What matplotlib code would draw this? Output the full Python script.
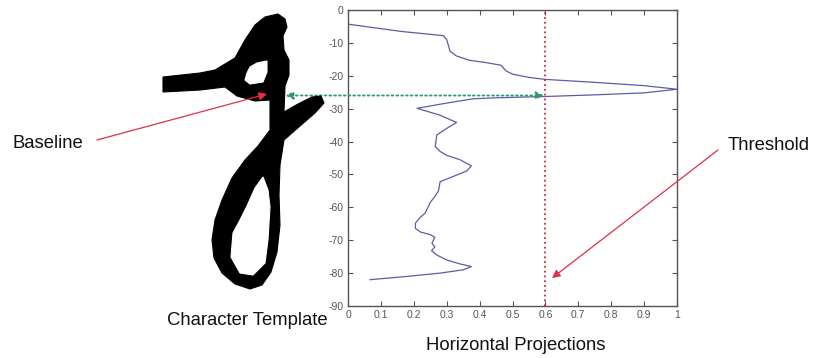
import matplotlib
matplotlib.use("Agg")
import matplotlib.pyplot as plt

plt.rcParams["font.family"] = ["Liberation Sans", "DejaVu Sans"]
plt.rcParams["axes.unicode_minus"] = False

# horizontal projection profile (value, row)
proj_value = [0.00, 0.16, 0.29, 0.30, 0.31, 0.33, 0.37, 0.42, 0.465, 0.48, 0.50, 0.55,
              0.60, 0.75, 0.90, 1.00, 0.90, 0.75, 0.60, 0.45, 0.38, 0.30, 0.21, 0.28,
              0.33, 0.30, 0.27, 0.265, 0.28, 0.30, 0.34, 0.375, 0.36, 0.31, 0.28, 0.275,
              0.264, 0.25, 0.244, 0.234, 0.22, 0.205, 0.205, 0.22, 0.25, 0.264, 0.255,
              0.264, 0.254, 0.27, 0.30, 0.34, 0.375, 0.35, 0.28, 0.18, 0.067]
proj_row = [-4.3, -6.5, -7.8, -9.0, -12.5, -14.0, -15.3, -16.0, -16.8, -18.5, -19.5, -20.5,
            -21.1, -22.0, -23.0, -24.1, -25.2, -25.8, -26.3, -26.7, -27.0, -28.3, -29.9, -32.0,
            -34.2, -36.0, -38.0, -41.5, -43.0, -44.2, -45.5, -47.4, -49.0, -51.0, -52.2, -55.0,
            -56.7, -58.5, -59.8, -61.8, -63.0, -64.8, -66.4, -67.5, -68.3, -69.1, -70.9,
            -72.0, -73.2, -74.5, -76.0, -77.2, -78.0, -79.0, -80.0, -81.0, -82.0]

threshold = 0.6
baseline_row = -26
x_ticks = [0, 0.1, 0.2, 0.3, 0.4, 0.5, 0.6, 0.7, 0.8, 0.9, 1]
x_tick_labels = ["0", "0.1", "0.2", "0.3", "0.4", "0.5", "0.6", "0.7", "0.8", "0.9", "1"]
y_ticks = [0, -10, -20, -30, -40, -50, -60, -70, -80, -90]

# character template outline, in image pixels (x right, y down)
glyph_outline = [(163, 77), (200, 73), (215, 70), (235, 58), (245, 40), (255, 25), (265, 17),
                 (278, 14), (285, 19), (287, 27), (283, 36), (284, 50), (289, 60), (289, 75),
                 (285, 86), (284, 112), (298, 104), (312, 97), (321, 96), (324, 103),
                 (315, 113), (300, 126), (284, 140), (280, 165), (279, 195), (280, 225),
                 (277, 252), (271, 272), (262, 285), (250, 289), (235, 284), (222, 273),
                 (214, 258), (212, 240), (215, 220), (222, 200), (232, 178), (245, 160),
                 (258, 146), (270, 130), (270, 100), (255, 101), (237, 96), (225, 87),
                 (200, 90), (163, 92)]
glyph_hole_top = [(245, 80), (247, 73), (250, 67), (257, 63), (267, 61), (267, 72),
                  (263, 82), (250, 84)]
glyph_hole_low = [(263, 177), (255, 188), (247, 206), (240, 220), (233, 233), (231, 257),
                  (240, 273), (253, 275), (265, 263), (268, 240), (270, 207), (268, 190)]

W, H = 813, 358
fig = plt.figure(figsize=(W / 100, H / 100), dpi=100)

ax = fig.add_axes([348 / W, 1 - 306 / H, 329 / W, 296 / H])
ax.plot(proj_value, proj_row, color="#5c5ca8", lw=0.9)
ax.axvline(threshold, color="#d8283a", ls=":", lw=1.3)
ax.set_xlim(0, 1)
ax.set_ylim(-90, 0)
ax.set_xticks(x_ticks)
ax.set_xticklabels(x_tick_labels)
ax.set_yticks(y_ticks)
ax.tick_params(direction="in", length=3.5, width=0.8, colors="#555555", labelsize=7.5,
               top=True, right=True, pad=3)
for s in ax.spines.values():
    s.set_color("#555555")
    s.set_linewidth(1.0)

ax.annotate("", xy=(-0.19, baseline_row), xytext=(0.595, baseline_row),
            annotation_clip=False,
            arrowprops=dict(arrowstyle="<|-|>", color="#2e9a6a", lw=1.3, ls=":",
                            mutation_scale=11, shrinkA=0, shrinkB=0))
ax.annotate("", xy=(0.62, -81.5), xytext=(718, H - 150), textcoords="figure pixels",
            annotation_clip=False,
            arrowprops=dict(arrowstyle="-|>", color="#e0304a", lw=0.9,
                            mutation_scale=12, shrinkA=0, shrinkB=0))

# overlay in image pixels for the character and labels
ov = fig.add_axes([0, 0, 1, 1])
ov.set_xlim(0, W)
ov.set_ylim(H, 0)
ov.axis("off")
ov.patch.set_visible(False)

for pts, col in [(glyph_outline, "black"), (glyph_hole_top, "white"), (glyph_hole_low, "white")]:
    xs, ys = zip(*pts)
    ov.fill(xs, ys, color=col, lw=0.8, ec=col)

ov.annotate("", xy=(267, 94), xytext=(97, 140),
            arrowprops=dict(arrowstyle="-|>", color="#e0304a", lw=0.9,
                            mutation_scale=12, shrinkA=0, shrinkB=0))

txt_kw = dict(fontsize=13.3, color="#111111")
ov.text(12, 143, "Baseline", ha="left", va="center", **txt_kw)
ov.text(728, 146, "Threshold", ha="left", va="center", **txt_kw)
ov.text(167, 325, "Character Template", ha="left", va="baseline", **txt_kw)
ov.text(516, 350, "Horizontal Projections", ha="center", va="baseline", **txt_kw)

fig.savefig("out.png", dpi=100)
